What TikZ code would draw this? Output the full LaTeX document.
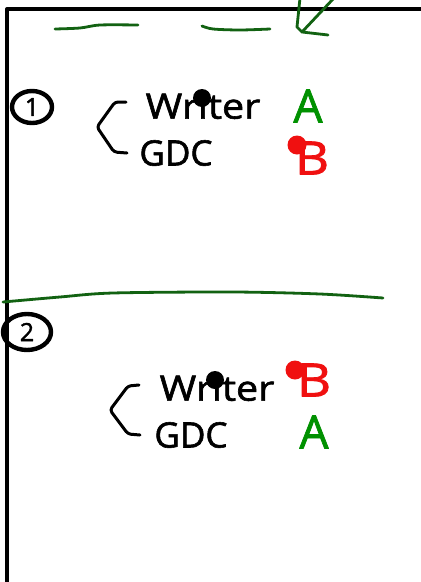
\documentclass[tikz,border=0pt]{standalone}
\usepackage{fontspec}
\usetikzlibrary{shapes.geometric}
\setmainfont{Open Sans}
\newfontfamily\handfont[FakeBold=1.6]{Open Sans}
\definecolor{inkgreen}{RGB}{18,98,18}
\definecolor{lettergreen}{RGB}{0,145,0}
\definecolor{letterred}{RGB}{240,16,16}
\begin{document}
\begin{tikzpicture}[x=1pt,y=-1pt,line cap=round,line join=round,
  pen/.style={line width=3pt,black},
  gpen/.style={line width=2.8pt,inkgreen},
  word/.style={inner sep=0pt,font=\fontsize{35}{40}\handfont},
  bigletter/.style={inner sep=0pt,font=\fontsize{46}{50}\handfont},
  blackdot/.style={circle,fill=black,inner sep=0pt,minimum size=18pt},
  reddot/.style={circle,fill=letterred,inner sep=0pt,minimum size=19pt},
  numring/.style={ellipse,draw,line width=4.4pt,inner sep=0pt,font=\fontsize{25}{28}\handfont}]
\useasboundingbox (0,0) rectangle (421,582);
\fill[white] (0,0) rectangle (421,582);

% page frame
\draw[line width=4pt,line cap=butt] (7,582) -- (7,9) -- (421,9);

% green marks along the top
\draw[gpen] plot[smooth] coordinates {(55,29) (80,28) (100,25) (138,25)};
\draw[gpen] plot[smooth] coordinates {(202,26) (213,29) (240,30) (270,29)};
\coordinate (tip) at (302,32);
\draw[gpen] (334,-2) -- (tip);
\draw[gpen] (300,-2) -- (297,27) -- (tip) -- (328,35);

% section 1
\node[numring,minimum width=40pt,minimum height=32pt] (n1) at (32,107) {1};
\draw[pen,rounded corners=3pt] (126,102) -- (115,102) -- (97,127) -- (114,152) -- (127,153);
\node[word,xscale=1.13] (w1) at (203,106) {Writer};
\node[blackdot] (d1) at (202,98) {};
\node[word] (g1) at (176,153) {GDC};
\node[bigletter,text=lettergreen] (a1) at (308,106) {A};
\node[bigletter,text=letterred,xscale=1.15] (b1) at (312,158) {B};
\node[reddot] (r1) at (297,145) {};

% divider
\draw[gpen] plot[smooth] coordinates {(3,302) (60,297) (113,293) (233,292) (320,294) (383,298)};

% section 2
\node[numring,minimum width=48pt,minimum height=36pt] (n2) at (27,332) {2};
\draw[pen,rounded corners=3pt] (139,385) -- (128,386) -- (110,410) -- (128,434) -- (140,435);
\node[word,xscale=1.13] (w2) at (217,388) {Writer};
\node[blackdot] (d2) at (215,380) {};
\node[word] (g2) at (191,435) {GDC};
\node[bigletter,text=letterred,xscale=1.15] (b2) at (314,380) {B};
\node[reddot] (r2) at (295,370) {};
\node[bigletter,text=lettergreen] (a2) at (314,432) {A};
\end{tikzpicture}
\end{document}
